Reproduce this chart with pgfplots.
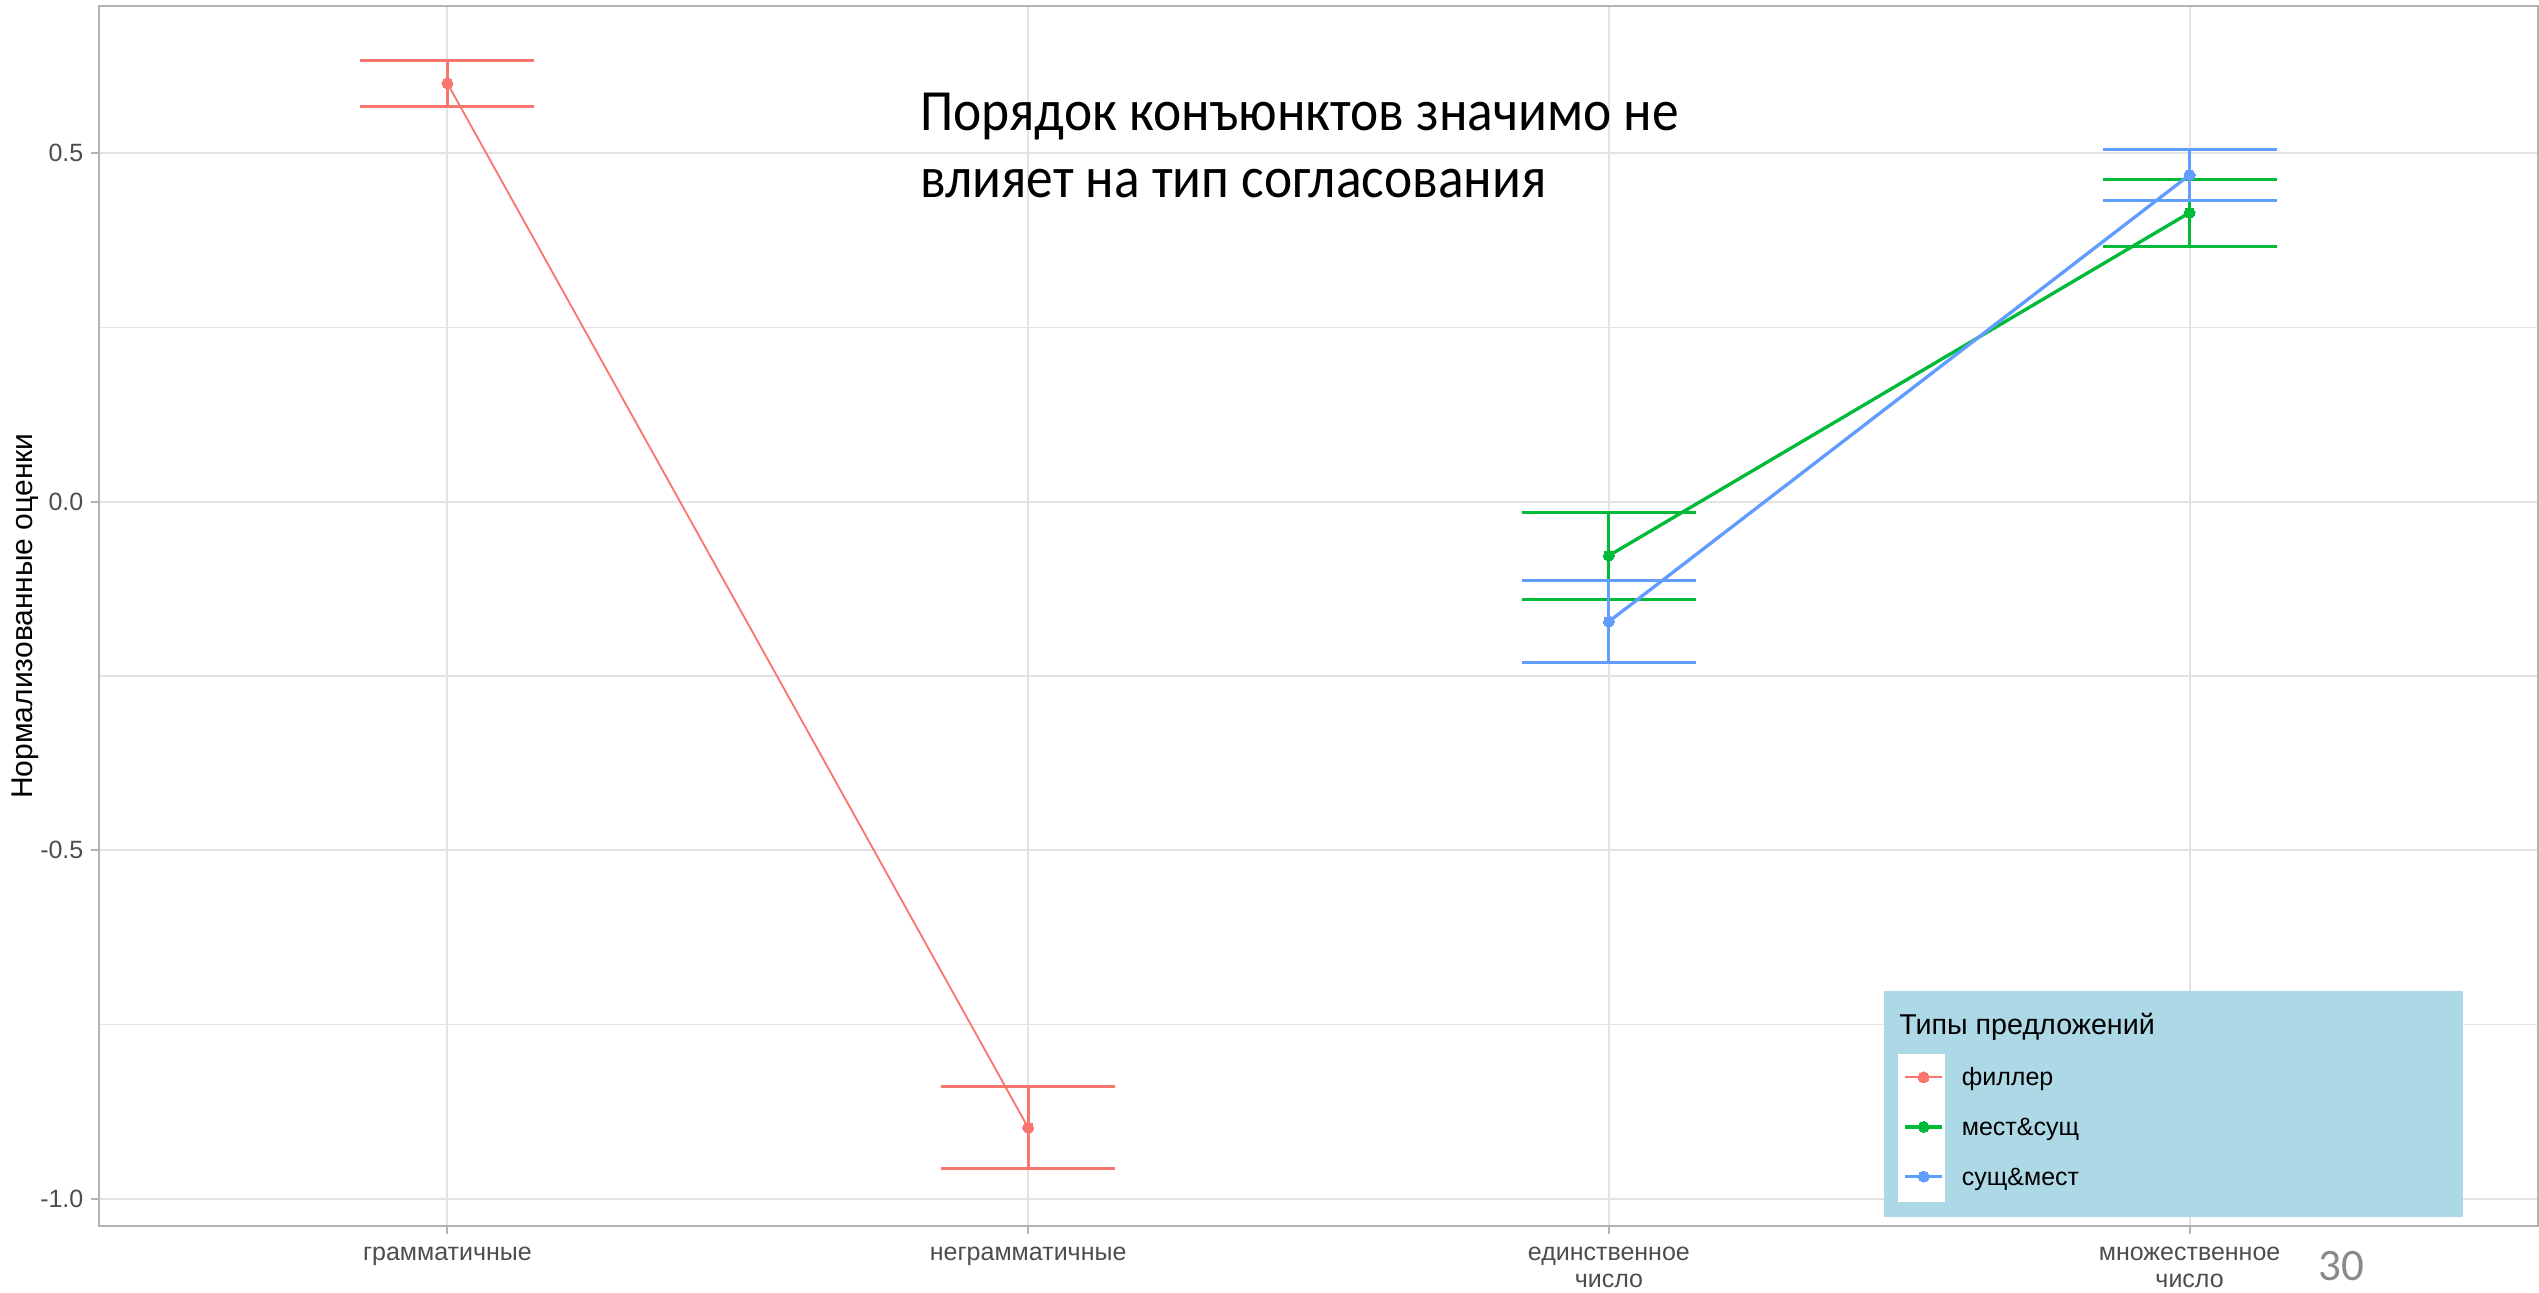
\documentclass[border=0pt]{standalone}
\usepackage{pgfplots}
\pgfplotsset{compat=1.18}
\usepackage{fontspec}
\setmainfont{Liberation Sans}
\newfontfamily\calibri{Carlito}
\definecolor{cred}{HTML}{F8766D}
\definecolor{cgreen}{HTML}{00BA38}
\definecolor{cblue}{HTML}{619CFF}
\definecolor{lblue}{HTML}{ADD8E6}
\definecolor{gridc}{HTML}{E3E3E3}
\definecolor{borderc}{HTML}{B3B3B3}
\definecolor{tickc}{HTML}{4D4D4D}
\definecolor{pagenum}{HTML}{898989}

\begin{document}
\begin{tikzpicture}
\begin{axis}[
  at={(0,0)}, anchor=south west,
  scale only axis, width=731.7pt, height=366pt,
  xmin=-0.6, xmax=3.6, ymin=-1.039, ymax=0.711,
  xtick={0,1,2,3},
  xticklabels={грамматичные, неграмматичные, {единственное\\число}, {множественное\\число}},
  ytick={-1,-0.5,0,0.5},
  yticklabels={-1.0,-0.5,0.0,0.5},
  minor ytick={-0.75,-0.25,0.25},
  xmajorgrids, ymajorgrids, yminorgrids,
  major grid style={gridc, line width=0.6pt},
  minor grid style={gridc, line width=0.45pt},
  axis line style={borderc, line width=0.6pt},
  tick pos=left,
  tick align=outside, major tick length=2.4pt, minor tick length=0pt,
  tick style={borderc, line width=0.6pt},
  every tick label/.append style={font=\fontsize{7.5}{8.1}\selectfont, text=tickc},
  xticklabel style={align=center, inner sep=0pt, yshift=-3.6pt},
  yticklabel style={inner sep=0pt, xshift=-2.1pt},
  ylabel={Нормализованные оценки},
  every axis y label/.style={at={(axis description cs:-0.02733,0.5)}, rotate=90, anchor=base, inner sep=0pt, font=\fontsize{9}{10}\selectfont},
  legend image code/.code={\draw[mark repeat=2,mark phase=2] plot coordinates {(0pt,0pt)(5.55pt,0pt)(11.1pt,0pt)};},
  legend cell align=left,
  legend style={at={(axis cs:2.5073,-0.790)}, anchor=north west, draw=none, fill=none,
    inner sep=0pt, outer sep=0pt, row sep=0pt, column sep=5.4pt,
    nodes={inner sep=0pt, text height=10.05pt, text depth=4.85pt, font=\fontsize{7.5}{8.1}\selectfont}},
]
% legend background, title and key panel
\fill[lblue] (axis cs:2.473,-0.7016) rectangle (axis cs:3.470,-1.0258);
\fill[white] (axis cs:2.4972,-0.7920) rectangle (axis cs:2.5781,-1.0043);
\node[anchor=base west, inner sep=0pt, font=\fontsize{8.6}{10}\selectfont] at (axis cs:2.499,-0.7647) {Типы предложений};

% annotation
\node[anchor=base west, inner sep=0pt, xscale=0.916, font=\calibri\fontsize{17.5}{20}\selectfont] at (axis cs:0.813,0.532) {Порядок конъюнктов значимо не};
\node[anchor=base west, inner sep=0pt, xscale=0.916, font=\calibri\fontsize{17.5}{20}\selectfont] at (axis cs:0.813,0.437) {влияет на тип согласования};

\addplot[cred, line width=0.55pt, mark=*, mark size=1.65pt, mark options={solid, fill=cred, draw=cred, line width=0pt},
  error bars/.cd, y dir=both, y explicit,
  error bar style={line width=0.9pt, cred},
  error mark options={rotate=90, line width=0.9pt, mark size=26.1pt, cred}]
  coordinates {(0,0.600) +- (0,0.033) (1,-0.898) +- (0,0.0585)};
\addlegendentry{филлер}

\addplot[cgreen, line width=1.0pt, mark=*, mark size=1.65pt, mark options={solid, fill=cgreen, draw=cgreen, line width=0pt},
  error bars/.cd, y dir=both, y explicit,
  error bar style={line width=0.9pt, cgreen},
  error mark options={rotate=90, line width=0.9pt, mark size=26.1pt, cgreen}]
  coordinates {(2,-0.0774) +- (0,0.0623) (3,0.4145) +- (0,0.048)};
\addlegendentry{мест\&сущ}

\addplot[cblue, line width=1.0pt, mark=*, mark size=1.65pt, mark options={solid, fill=cblue, draw=cblue, line width=0pt},
  error bars/.cd, y dir=both, y explicit,
  error bar style={line width=0.9pt, cblue},
  error mark options={rotate=90, line width=0.9pt, mark size=26.1pt, cblue}]
  coordinates {(2,-0.172) +- (0,0.0585) (3,0.4686) +- (0,0.0367)};
\addlegendentry{сущ\&мест}
\end{axis}
\node[anchor=base west, inner sep=0pt, font=\calibri\fontsize{13.5}{15}\selectfont, text=pagenum] at (665.7pt,-16.2pt) {30};
\pgfresetboundingbox
\useasboundingbox (-29.7pt,-19.8pt) rectangle (732pt,367.8pt);
\end{tikzpicture}
\end{document}
